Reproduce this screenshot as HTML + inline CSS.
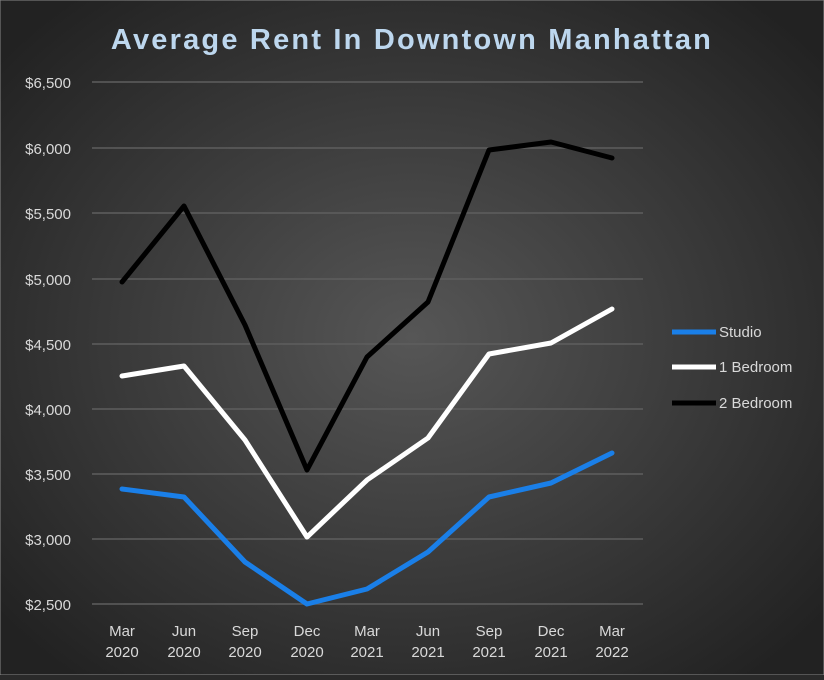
<!DOCTYPE html><html><head><style>body{margin:0;width:824px;height:675px;overflow:hidden;background:#2a2a2a}</style></head><body>
<svg width="824" height="675" xmlns="http://www.w3.org/2000/svg" font-family="Liberation Sans, sans-serif">
<defs><radialGradient id="g" cx="50%" cy="50%" r="65%"><stop offset="0" stop-color="#565656"/><stop offset="1" stop-color="#222"/></radialGradient></defs>
<rect x="0" y="0" width="824" height="675" fill="url(#g)" stroke="#888" stroke-width="1"/>
<text x="412" y="49" text-anchor="middle" font-size="29" font-weight="bold" fill="#bdd7ee" letter-spacing="2.2">Average Rent In Downtown Manhattan</text>
<g stroke="#5e5e5e" stroke-width="1.5">
<line x1="92" x2="643" y1="82" y2="82"/><line x1="92" x2="643" y1="148" y2="148"/><line x1="92" x2="643" y1="213" y2="213"/><line x1="92" x2="643" y1="279" y2="279"/><line x1="92" x2="643" y1="344" y2="344"/><line x1="92" x2="643" y1="409" y2="409"/><line x1="92" x2="643" y1="474" y2="474"/><line x1="92" x2="643" y1="539" y2="539"/><line x1="92" x2="643" y1="604" y2="604"/></g>
<g fill="#d9d9d9" font-size="15" text-anchor="end">
<text x="71" y="88">$6,500</text><text x="71" y="154">$6,000</text><text x="71" y="219">$5,500</text><text x="71" y="285">$5,000</text><text x="71" y="350">$4,500</text><text x="71" y="415">$4,000</text><text x="71" y="480">$3,500</text><text x="71" y="545">$3,000</text><text x="71" y="610">$2,500</text></g>
<g fill="#d9d9d9" font-size="15" text-anchor="middle">
<text x="122" y="636">Mar</text><text x="122" y="657">2020</text>
<text x="184" y="636">Jun</text><text x="184" y="657">2020</text>
<text x="245" y="636">Sep</text><text x="245" y="657">2020</text>
<text x="307" y="636">Dec</text><text x="307" y="657">2020</text>
<text x="367" y="636">Mar</text><text x="367" y="657">2021</text>
<text x="428" y="636">Jun</text><text x="428" y="657">2021</text>
<text x="489" y="636">Sep</text><text x="489" y="657">2021</text>
<text x="551" y="636">Dec</text><text x="551" y="657">2021</text>
<text x="612" y="636">Mar</text><text x="612" y="657">2022</text></g>
<g fill="none" stroke-width="5" stroke-linejoin="round" stroke-linecap="round">
<polyline stroke="#000" points="122,282 184,206 245,325 307,470 367,357 428,302 489,150 551,142 612,158"/>
<polyline stroke="#fff" points="122,376 184,366 245,440 307,537 367,480 428,438 489,354 551,343 612,309"/>
<polyline stroke="#1a7fe8" points="122,489 184,497 245,562 307,604 367,589 428,552 489,497 551,483 612,453"/>
</g>
<g stroke-width="5"><line x1="672" x2="716" y1="332" y2="332" stroke="#1a7fe8"/><line x1="672" x2="716" y1="367" y2="367" stroke="#fff"/><line x1="672" x2="716" y1="403" y2="403" stroke="#000"/></g>
<g fill="#d9d9d9" font-size="15"><text x="719" y="337">Studio</text><text x="719" y="372">1 Bedroom</text><text x="719" y="408">2 Bedroom</text></g>
</svg></body></html>
